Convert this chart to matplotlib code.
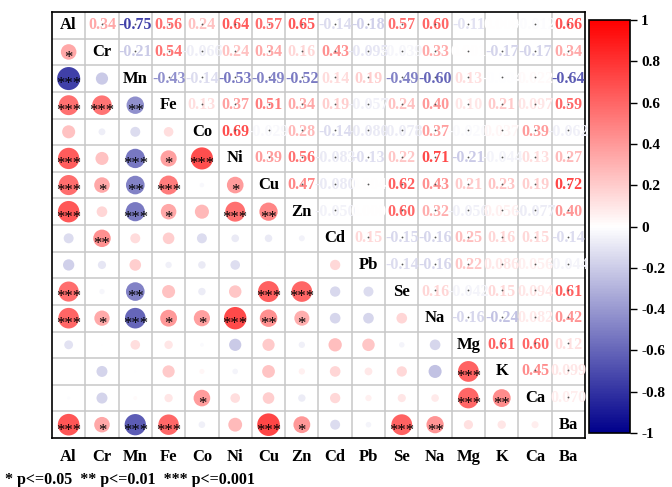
import numpy as np
import matplotlib.pyplot as plt
from matplotlib.colors import LinearSegmentedColormap, Normalize
from matplotlib.cm import ScalarMappable

elements = ['Al', 'Cr', 'Mn', 'Fe', 'Co', 'Ni', 'Cu', 'Zn',
            'Cd', 'Pb', 'Se', 'Na', 'Mg', 'K', 'Ca', 'Ba']

# correlation coefficients above the diagonal, one list per row
upper_rows = [
    [0.34, -0.75, 0.56, 0.24, 0.64, 0.57, 0.65, -0.14, -0.18, 0.57, 0.60, -0.11, 0.0, -0.012, 0.66],
    [-0.21, 0.54, -0.066, 0.24, 0.34, 0.16, 0.43, -0.095, -0.039, 0.33, 0.001, -0.17, -0.17, 0.34],
    [-0.43, -0.14, -0.53, -0.49, -0.52, 0.14, 0.19, -0.49, -0.60, 0.13, -0.004, 0.022, -0.64],
    [0.13, 0.37, 0.51, 0.34, 0.19, -0.057, 0.24, 0.40, 0.10, 0.21, 0.097, 0.59],
    [0.69, -0.029, 0.28, -0.14, -0.080, -0.078, 0.37, -0.020, 0.037, 0.39, -0.062],
    [0.39, 0.56, -0.083, -0.13, 0.22, 0.71, -0.21, -0.044, 0.13, 0.27],
    [0.47, -0.080, 0.004, 0.62, 0.43, 0.21, 0.23, 0.19, 0.72],
    [-0.050, 0.0, 0.60, 0.32, -0.056, 0.056, -0.077, 0.40],
    [0.15, -0.15, -0.16, 0.25, 0.16, 0.15, -0.14],
    [-0.14, -0.16, 0.22, 0.086, 0.056, -0.044],
    [0.16, -0.042, 0.15, 0.094, 0.61],
    [-0.16, -0.24, 0.082, 0.42],
    [0.61, 0.60, 0.12],
    [0.45, 0.099],
    [0.070],
]

# significance marks below the diagonal: (row, col) -> stars
stars = {
    ('Cr', 'Al'): '*',
    ('Mn', 'Al'): '***',
    ('Fe', 'Al'): '***', ('Fe', 'Cr'): '***', ('Fe', 'Mn'): '**',
    ('Ni', 'Al'): '***', ('Ni', 'Mn'): '***', ('Ni', 'Fe'): '*', ('Ni', 'Co'): '***',
    ('Cu', 'Al'): '***', ('Cu', 'Cr'): '*', ('Cu', 'Mn'): '**', ('Cu', 'Fe'): '***', ('Cu', 'Ni'): '*',
    ('Zn', 'Al'): '***', ('Zn', 'Mn'): '***', ('Zn', 'Fe'): '*', ('Zn', 'Ni'): '***', ('Zn', 'Cu'): '**',
    ('Cd', 'Cr'): '**',
    ('Se', 'Al'): '***', ('Se', 'Mn'): '**', ('Se', 'Cu'): '***', ('Se', 'Zn'): '***',
    ('Na', 'Al'): '***', ('Na', 'Cr'): '*', ('Na', 'Mn'): '***', ('Na', 'Fe'): '*',
    ('Na', 'Co'): '*', ('Na', 'Ni'): '***', ('Na', 'Cu'): '**', ('Na', 'Zn'): '*',
    ('K', 'Mg'): '***',
    ('Ca', 'Co'): '*', ('Ca', 'Mg'): '***', ('Ca', 'K'): '**',
    ('Ba', 'Al'): '***', ('Ba', 'Cr'): '*', ('Ba', 'Mn'): '***', ('Ba', 'Fe'): '***',
    ('Ba', 'Cu'): '***', ('Ba', 'Zn'): '*', ('Ba', 'Se'): '***', ('Ba', 'Na'): '**',
}

cbar_ticks = [-1, -0.8, -0.6, -0.4, -0.2, 0, 0.2, 0.4, 0.6, 0.8, 1]
legend_text = '* p<=0.05  ** p<=0.01  *** p<=0.001'

n = len(elements)
corr = np.eye(n)
for i, row in enumerate(upper_rows):
    for k, v in enumerate(row):
        j = i + 1 + k
        corr[i, j] = v
        corr[j, i] = v


def fmt(v):
    # two decimals, three for small coefficients
    return f'{v:.2f}' if abs(v) >= 0.1 else f'{v:.3f}'


serif = 'Liberation Serif'
cmap = LinearSegmentedColormap.from_list('bwr_dark', ['#00008B', '#FFFFFF', '#FF0000'])
norm = Normalize(-1, 1)

fig = plt.figure(figsize=(6.72, 4.87), dpi=100)
ax = fig.add_axes([52 / 672, 49 / 487, 533 / 672, 426 / 487])
ax.set_xlim(0, n)
ax.set_ylim(n, 0)

# row height in pixels, used to size the circles
cell_h = 426 / n

for i in range(n):
    for j in range(n):
        v = corr[i, j]
        xc, yc = j + 0.5, i + 0.5
        if i == j:
            ax.text(xc, yc, elements[i], ha='center', va='center', fontsize=12,
                    fontweight='bold', family=serif, color='black', zorder=4)
        elif j > i:
            ax.text(xc, yc, fmt(v), ha='center', va='center', fontsize=11.5,
                    fontweight='bold', family=serif, color=cmap(norm(v)), zorder=3)
            if v != 0:
                ax.plot(xc, yc - 0.05, 'o', ms=1.3, mec='none', color='#555555', zorder=5)
        else:
            d_pt = np.sqrt(abs(v)) * cell_h * 0.72
            ax.scatter([xc], [yc], s=d_pt ** 2, color=cmap(norm(v)),
                       edgecolors='none', zorder=3)
            mark = stars.get((elements[i], elements[j]))
            if mark:
                ax.text(xc, yc + 0.22, mark, ha='center', va='center', fontsize=12,
                        family=serif, color='black', zorder=4)

# cell grid
for k in range(1, n):
    ax.axhline(k, color='#C8C8C8', lw=1.1, zorder=1)
    ax.axvline(k, color='#C8C8C8', lw=1.1, zorder=1)

for sp in ax.spines.values():
    sp.set_color('black')
    sp.set_linewidth(1.2)
ax.set_yticks([])
ax.set_xticks(np.arange(n) + 0.5)
ax.set_xticklabels(elements, fontsize=12, fontweight='bold', family=serif)
ax.tick_params(axis='x', length=0, pad=8)

# colour bar
cax = fig.add_axes([589 / 672, 54 / 487, 41 / 672, 413 / 487])
cb = fig.colorbar(ScalarMappable(norm=norm, cmap=cmap), cax=cax, ticks=cbar_ticks)
cb.ax.set_yticklabels([f'{t:g}' for t in cbar_ticks], fontsize=11,
                      fontweight='bold', family=serif)
cb.ax.tick_params(length=5, width=1, pad=3)
cb.outline.set_linewidth(1.2)

fig.text(5 / 672, 7 / 487, legend_text, ha='left', va='center', fontsize=11.5,
         fontweight='bold', family=serif)

fig.savefig('out.png', dpi=100)
